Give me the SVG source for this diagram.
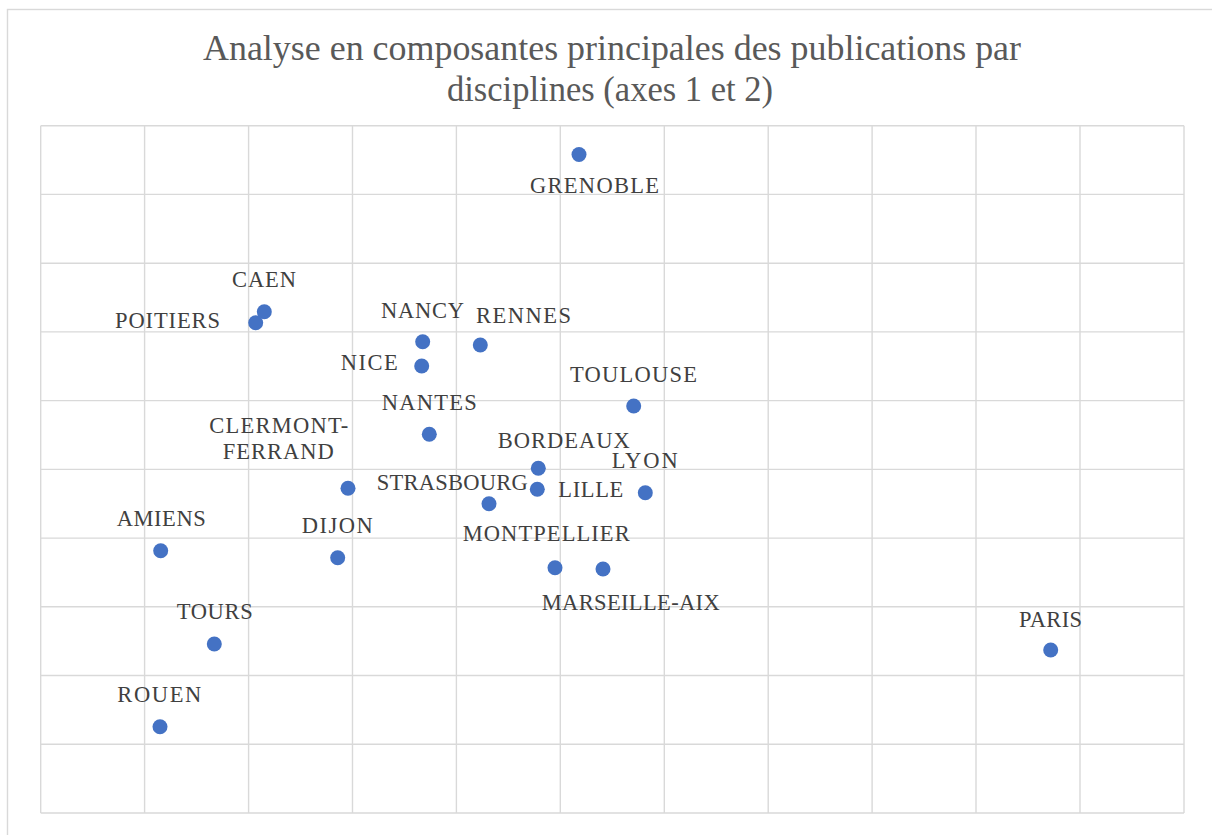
<svg xmlns="http://www.w3.org/2000/svg" width="1212" height="835" viewBox="0 0 1212 835">
<style>
.grid line{stroke:#d9d9d9;stroke-width:1.4}
.title{font-family:"Liberation Serif","Times New Roman",serif;font-size:36px;fill:#595959}
.lbl{font-family:"Liberation Serif","Times New Roman",serif;font-size:22.5px;fill:#404040}
.pt{fill:#4472c4}
</style>
<rect x="0" y="0" width="1212" height="835" fill="#ffffff"/>
<rect x="7.5" y="9.5" width="1230" height="850" fill="#ffffff" stroke="#d9d9d9" stroke-width="1.4"/>
<g id="title">
<text class="title" x="203" y="60" textLength="818" lengthAdjust="spacingAndGlyphs">Analyse en composantes principales des publications par</text>
<text class="title" x="447" y="101" textLength="326" lengthAdjust="spacingAndGlyphs">disciplines (axes 1 et 2)</text>
</g>
<g id="grid" class="grid">
<line x1="40.7" y1="125.7" x2="40.7" y2="813"/>
<line x1="144.6" y1="125.7" x2="144.6" y2="813"/>
<line x1="248.6" y1="125.7" x2="248.6" y2="813"/>
<line x1="352.5" y1="125.7" x2="352.5" y2="813"/>
<line x1="456.4" y1="125.7" x2="456.4" y2="813"/>
<line x1="560.3" y1="125.7" x2="560.3" y2="813"/>
<line x1="664.3" y1="125.7" x2="664.3" y2="813"/>
<line x1="768.2" y1="125.7" x2="768.2" y2="813"/>
<line x1="872.1" y1="125.7" x2="872.1" y2="813"/>
<line x1="976" y1="125.7" x2="976" y2="813"/>
<line x1="1080" y1="125.7" x2="1080" y2="813"/>
<line x1="1184" y1="125.7" x2="1184" y2="813"/>
<line x1="40.7" y1="125.7" x2="1184" y2="125.7"/>
<line x1="40.7" y1="194.4" x2="1184" y2="194.4"/>
<line x1="40.7" y1="263.2" x2="1184" y2="263.2"/>
<line x1="40.7" y1="331.9" x2="1184" y2="331.9"/>
<line x1="40.7" y1="400.6" x2="1184" y2="400.6"/>
<line x1="40.7" y1="469.4" x2="1184" y2="469.4"/>
<line x1="40.7" y1="538.1" x2="1184" y2="538.1"/>
<line x1="40.7" y1="606.8" x2="1184" y2="606.8"/>
<line x1="40.7" y1="675.5" x2="1184" y2="675.5"/>
<line x1="40.7" y1="744.3" x2="1184" y2="744.3"/>
<line x1="40.7" y1="813" x2="1184" y2="813"/>
</g>
<g id="connectors"></g>
<g id="grenoble"><circle class="pt" cx="579" cy="154.5" r="7.5"/><text class="lbl" x="530" y="193" textLength="129">GRENOBLE</text></g>
<g id="caen"><circle class="pt" cx="264.3" cy="311.7" r="7.5"/><text class="lbl" x="232" y="287" textLength="64">CAEN</text></g>
<g id="poitiers"><circle class="pt" cx="255.7" cy="322.7" r="7.5"/><text class="lbl" x="115" y="328" textLength="105">POITIERS</text></g>
<g id="nancy"><circle class="pt" cx="422.7" cy="341.7" r="7.5"/><text class="lbl" x="381" y="317.5" textLength="83">NANCY</text></g>
<g id="rennes"><circle class="pt" cx="480.3" cy="345" r="7.5"/><text class="lbl" x="476" y="322.5" textLength="95">RENNES</text></g>
<g id="nice"><circle class="pt" cx="421.7" cy="366" r="7.5"/><text class="lbl" x="340.7" y="370" textLength="57">NICE</text></g>
<g id="nantes"><circle class="pt" cx="429.3" cy="434.3" r="7.5"/><text class="lbl" x="381.7" y="410" textLength="95">NANTES</text></g>
<g id="clermont-ferrand"><circle class="pt" cx="348" cy="488.3" r="7.5"/><text class="lbl" x="209.3" y="432.7" textLength="139">CLERMONT-</text><text class="lbl" x="222.7" y="459" textLength="111">FERRAND</text></g>
<g id="strasbourg"><circle class="pt" cx="489" cy="503.7" r="7.5"/><text class="lbl" x="376.7" y="490" textLength="151">STRASBOURG</text></g>
<g id="toulouse"><circle class="pt" cx="633.7" cy="406" r="7.5"/><text class="lbl" x="570" y="381.7" textLength="127">TOULOUSE</text></g>
<g id="bordeaux"><circle class="pt" cx="538.3" cy="468.3" r="7.5"/><text class="lbl" x="497.7" y="447.7" textLength="132">BORDEAUX</text></g>
<g id="lille"><circle class="pt" cx="537.3" cy="489.3" r="7.5"/><text class="lbl" x="558.3" y="497.3" textLength="65">LILLE</text></g>
<g id="lyon"><circle class="pt" cx="645.3" cy="492.7" r="7.5"/><text class="lbl" x="611.7" y="468.3" textLength="66">LYON</text></g>
<g id="montpellier"><circle class="pt" cx="555" cy="567.7" r="7.5"/><text class="lbl" x="462.7" y="540.7" textLength="167">MONTPELLIER</text></g>
<g id="marseille-aix"><circle class="pt" cx="603" cy="569" r="7.5"/><text class="lbl" x="541.7" y="610" textLength="178">MARSEILLE-AIX</text></g>
<g id="amiens"><circle class="pt" cx="160.7" cy="550.7" r="7.5"/><text class="lbl" x="116.7" y="526" textLength="89">AMIENS</text></g>
<g id="dijon"><circle class="pt" cx="337.7" cy="557.7" r="7.5"/><text class="lbl" x="301.7" y="533.3" textLength="71">DIJON</text></g>
<g id="tours"><circle class="pt" cx="214.3" cy="644" r="7.5"/><text class="lbl" x="176.7" y="619" textLength="76">TOURS</text></g>
<g id="rouen"><circle class="pt" cx="160" cy="726.7" r="7.5"/><text class="lbl" x="117.3" y="701.7" textLength="84">ROUEN</text></g>
<g id="paris"><circle class="pt" cx="1050.7" cy="650" r="7.5"/><text class="lbl" x="1019" y="626.7" textLength="63">PARIS</text></g>
</svg>
